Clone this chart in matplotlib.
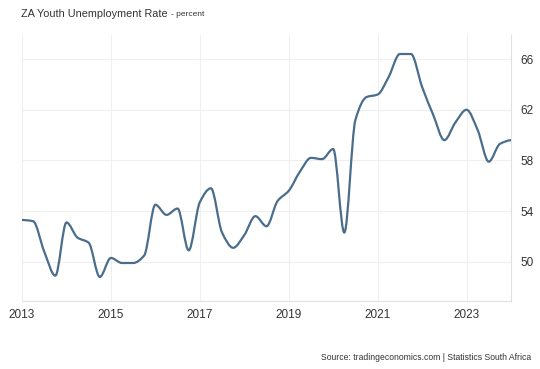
import numpy as np
import matplotlib
matplotlib.use("Agg")
import matplotlib.pyplot as plt
from matplotlib.path import Path
from matplotlib.patches import PathPatch

# ── Data: quarterly youth unemployment rate, Q1 2013 .. Q1 2024 ──────────────
start_year = 2013
rate = [53.3, 53.2, 50.8, 48.9, 53.1, 51.9, 51.5, 48.8,
        50.3, 49.9, 49.9, 50.5, 54.5, 53.7, 54.2, 50.9,
        54.7, 55.8, 52.3, 51.1, 52.1, 53.6, 52.8, 54.8,
        55.6, 57.1, 58.2, 58.1, 58.9, 52.3, 61.2, 63.0,
        63.2, 64.6, 66.4, 66.4, 63.8, 61.6, 59.6, 61.0,
        62.0, 60.4, 57.9, 59.3, 59.6]
x_ticks = [2013, 2015, 2017, 2019, 2021, 2023]
y_ticks = [50, 54, 58, 62, 66]

LINE = "#4a6d8c"
GRID = "#efefef"
TEXT = "#333333"

t = start_year + np.arange(len(rate)) / 4.0
v = np.array(rate)


def smooth_path(x, y):
    # monotone cubic (Fritsch-Carlson tangents) drawn as bezier segments
    h = np.diff(x)
    d = np.diff(y) / h
    m = np.zeros(len(x))
    for k in range(1, len(x) - 1):
        if d[k - 1] * d[k] > 0:
            w1 = 2 * h[k] + h[k - 1]
            w2 = h[k] + 2 * h[k - 1]
            m[k] = (w1 + w2) / (w1 / d[k - 1] + w2 / d[k])
    m[0] = d[0] * 0.5
    m[-1] = d[-1] * 0.3
    verts = [(x[0], y[0])]
    codes = [Path.MOVETO]
    for k in range(len(x) - 1):
        dx = h[k] / 3
        verts += [(x[k] + dx, y[k] + m[k] * dx),
                  (x[k + 1] - dx, y[k + 1] - m[k + 1] * dx),
                  (x[k + 1], y[k + 1])]
        codes += [Path.CURVE4] * 3
    return Path(verts, codes)


plt.rcParams["font.family"] = ["Liberation Sans", "DejaVu Sans"]
fig = plt.figure(figsize=(5.4, 3.69), dpi=100)
fig.patch.set_facecolor("white")
ax = fig.add_axes([22 / 540, 1 - 301 / 369, (511 - 22) / 540, (301 - 35) / 369])

ax.add_patch(PathPatch(smooth_path(t, v), facecolor="none", edgecolor=LINE,
                       linewidth=1.6, capstyle="round", joinstyle="round", zorder=3))

ax.set_xlim(2013.0, 2024.0)
ax.set_ylim(46.9, 67.9)
ax.set_xticks(x_ticks)
ax.set_xticklabels([str(y) for y in x_ticks])
ax.set_yticks(y_ticks)
ax.yaxis.tick_right()
ax.tick_params(axis="both", length=0, labelsize=8.5, colors=TEXT)
ax.tick_params(axis="x", pad=6)
ax.tick_params(axis="y", pad=7)
ax.grid(True, color=GRID, linewidth=0.8)
ax.set_axisbelow(True)
for side in ["top", "left"]:
    ax.spines[side].set_visible(False)
for side in ["bottom", "right"]:
    ax.spines[side].set_color("#e0e0e0")
    ax.spines[side].set_linewidth(0.8)

fig.text(21 / 540, 1 - 14 / 369, "ZA Youth Unemployment Rate", fontsize=7.8,
         color=TEXT, va="center", ha="left")
fig.text(171 / 540, 1 - 14.5 / 369, "- percent", fontsize=6, color=TEXT,
         va="center", ha="left")
fig.text(531 / 540, 1 - 357 / 369,
         "Source: tradingeconomics.com | Statistics South Africa",
         fontsize=6.2, color=TEXT, va="center", ha="right")

fig.savefig("out.png", dpi=100, facecolor="white")
